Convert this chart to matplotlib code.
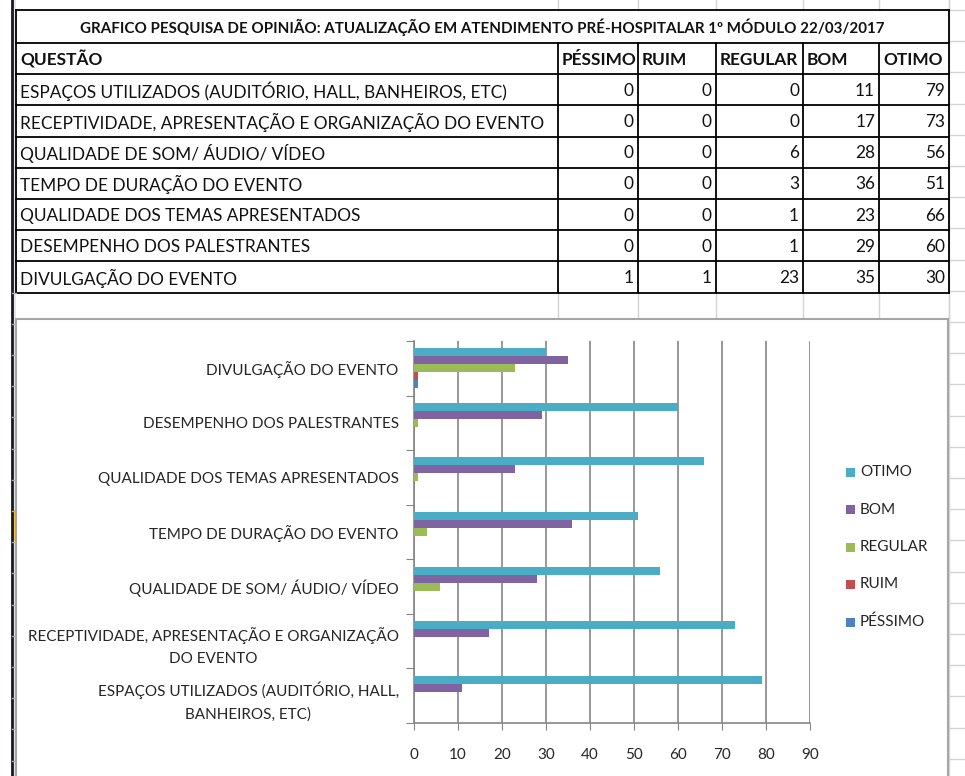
import matplotlib
matplotlib.use('Agg')
import matplotlib.pyplot as plt
from matplotlib.patches import Rectangle

plt.rcParams['font.family'] = ['Lato', 'DejaVu Sans']

titulo = 'GRAFICO PESQUISA DE OPINIÃO: ATUALIZAÇÃO EM ATENDIMENTO PRÉ-HOSPITALAR 1º MÓDULO 22/03/2017'
cabecalho = ['QUESTÃO', 'PÉSSIMO', 'RUIM', 'REGULAR', 'BOM', 'OTIMO']
questoes = ['ESPAÇOS UTILIZADOS (AUDITÓRIO, HALL, BANHEIROS, ETC)',
            'RECEPTIVIDADE, APRESENTAÇÃO E ORGANIZAÇÃO DO EVENTO',
            'QUALIDADE DE SOM/ ÁUDIO/ VÍDEO',
            'TEMPO DE DURAÇÃO DO EVENTO',
            'QUALIDADE DOS TEMAS APRESENTADOS',
            'DESEMPENHO DOS PALESTRANTES',
            'DIVULGAÇÃO DO EVENTO']
# rotulos do grafico (quebrados como no excel)
rotulos = ['ESPAÇOS UTILIZADOS (AUDITÓRIO, HALL,\nBANHEIROS, ETC)',
           'RECEPTIVIDADE, APRESENTAÇÃO E ORGANIZAÇÃO\nDO EVENTO',
           'QUALIDADE DE SOM/ ÁUDIO/ VÍDEO',
           'TEMPO DE DURAÇÃO DO EVENTO',
           'QUALIDADE DOS TEMAS APRESENTADOS',
           'DESEMPENHO DOS PALESTRANTES',
           'DIVULGAÇÃO DO EVENTO']
pessimo = [0, 0, 0, 0, 0, 0, 1]
ruim = [0, 0, 0, 0, 0, 0, 1]
regular = [0, 0, 6, 3, 1, 1, 23]
bom = [11, 17, 28, 36, 23, 29, 35]
otimo = [79, 73, 56, 51, 66, 60, 30]

series = [pessimo, ruim, regular, bom, otimo]
nomes = ['PÉSSIMO', 'RUIM', 'REGULAR', 'BOM', 'OTIMO']
cores = ['#4F81BD', '#C0504D', '#9BBB59', '#8064A2', '#4BACC6']

W, H = 965, 776
fig = plt.figure(figsize=(W / 100, H / 100), dpi=100)

# fundo da planilha em coordenadas de pixel
bg = fig.add_axes([0, 0, 1, 1])
bg.set_xlim(0, W)
bg.set_ylim(H, 0)
bg.axis('off')

cols = [16, 558, 638, 716, 803, 879, 949]
topo = 10
linhas = [topo, 43] + [43 + 31.2 * (k + 1) for k in range(8)]
cinza = '#d4d4d4'

# grade clara da planilha
for x in cols[1:]:
    bg.plot([x, x], [0, topo], color=cinza, lw=1)
    bg.plot([x, x], [linhas[-1], 319], color=cinza, lw=1)
y = linhas[0]
while y < H:
    bg.plot([949, W], [y, y], color=cinza, lw=1)
    y += 31.2
bg.plot([949, 949], [0, H], color=cinza, lw=1)

# tabela
for y in linhas:
    bg.plot([cols[0], cols[-1]], [y, y], color='black', lw=1.3)
for x in cols:
    bg.plot([x, x], [linhas[1] if x not in (cols[0], cols[-1]) else topo, linhas[-1]], color='black', lw=1.3)

bg.text((cols[0] + cols[-1]) / 2, (linhas[0] + linhas[1]) / 2 + 1, titulo, ha='center', va='center',
        fontsize=10.9, fontweight='bold', color='#111111')
for j, c in enumerate(cabecalho):
    bg.text(cols[j] + 4, (linhas[1] + linhas[2]) / 2 + 1, c, ha='left', va='center',
            fontsize=12.4, fontweight='bold', color='#111111')
for i, q in enumerate(questoes):
    yc = (linhas[2 + i] + linhas[3 + i]) / 2 + 1
    bg.text(cols[0] + 4, yc, q, ha='left', va='center', fontsize=12.4, color='#111111')
    for j, s in enumerate(series):
        bg.text(cols[j + 2] - 4, yc, str(s[i]), ha='right', va='center', fontsize=12.4, color='#111111')

# borda esquerda da janela
bg.add_patch(Rectangle((12, 0), 4, H, color='#e3e6eb', lw=0))
bg.plot([11.5, 11.5], [0, H], color='#1a1a1a', lw=2)
y = linhas[-1]
while y < H:
    bg.plot([12, 16], [y, y], color='#a9adb3', lw=1)
    y += 31.2
bg.add_patch(Rectangle((12, 510), 4, 31, color='#f5c342', lw=0))

# caixa do grafico
bg.add_patch(Rectangle((16, 319), 932, H, facecolor='white', edgecolor='#a6a6a6', lw=1.5, zorder=3))

# legenda manual
for k in range(5):
    yl = 622 - k * 37.5
    bg.add_patch(Rectangle((846, yl - 4.5), 9, 9, color=cores[k], lw=0, zorder=4))
    bg.text(860, yl, nomes[k], ha='left', va='center', fontsize=11, color='#262626', zorder=4)

# grafico de barras
ax = fig.add_axes([414 / W, (H - 723) / H, (810 - 414) / W, (723 - 341) / H])
ax.set_zorder(5)
ax.patch.set_alpha(0)
h = 0.147
for k, s in enumerate(series):
    pos = [i + 0.5 + (k - 2) * h for i in range(len(s))]
    ax.barh(pos, s, height=h, color=cores[k], edgecolor='none', zorder=3)

ax.set_xlim(0, 90)
ax.set_ylim(0, 7)
ax.set_xticks(range(0, 91, 10))
ax.set_yticks(range(0, 8))
ax.set_yticklabels([])
ax.set_yticks([i + 0.5 for i in range(7)], minor=True)
ax.set_yticklabels(rotulos, minor=True, fontsize=11, color='#262626',
                   multialignment='center', linespacing=1.75)
ax.tick_params(axis='y', which='minor', length=0, pad=11)
ax.tick_params(axis='y', which='major', length=6, color='#868686')
ax.tick_params(axis='x', length=5, color='#868686', labelsize=11, labelcolor='#262626', pad=13)
ax.grid(axis='x', color='#868686', lw=1.2, zorder=0)
for lado in ['top', 'right']:
    ax.spines[lado].set_visible(False)
for lado in ['left', 'bottom']:
    ax.spines[lado].set_color('#868686')
    ax.spines[lado].set_linewidth(1.2)

fig.savefig('out.png', dpi=100)
